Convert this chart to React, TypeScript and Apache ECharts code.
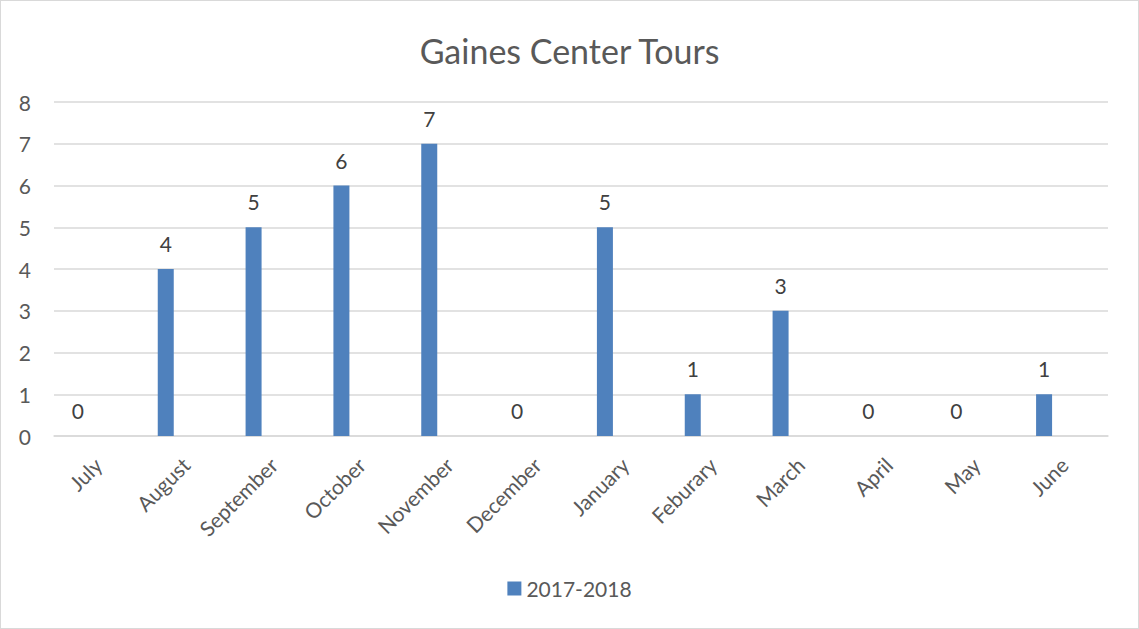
import React, { useEffect, useRef } from "react";
import * as echarts from "echarts";

const categories = ["July", "August", "September", "October", "November", "December", "January", "Feburary", "March", "April", "May", "June"];
const tours = [0, 4, 5, 6, 7, 0, 5, 1, 3, 0, 0, 1];
const emptySeries = [null, null, null, null, null, null, null, null, null, null, null, null];
const yTicks = [0, 8, 1];
const seriesName = "2017-2018";
const title = "Gaines Center Tours";

export default function App() {
  const ref = useRef<HTMLDivElement>(null);
  useEffect(() => {
    document.body.style.margin = "0";
    const chart = echarts.init(ref.current!, null, { renderer: "svg" });
    const font = "Lato, 'Open Sans', sans-serif";
    chart.setOption({
      animation: false,
      textStyle: { fontFamily: font },
      title: {
        text: title,
        left: "center",
        top: 27,
        textStyle: { fontFamily: font, fontSize: 34, fontWeight: "normal", color: "#595959" },
      },
      grid: { left: 53, right: 30, top: 101, bottom: 192, containLabel: false },
      legend: {
        data: [seriesName],
        bottom: 24,
        left: "center",
        itemWidth: 14,
        itemHeight: 14,
        itemGap: 6,
        icon: "rect",
        textStyle: { fontFamily: font, fontSize: 21, color: "#595959" },
      },
      xAxis: {
        type: "category",
        data: categories,
        axisTick: { show: false },
        axisLine: { lineStyle: { color: "#d9d9d9", width: 1.5 } },
        axisLabel: { rotate: 45, fontSize: 21, color: "#595959", margin: 25, interval: 0, fontFamily: font },
      },
      yAxis: {
        type: "value",
        min: yTicks[0],
        max: yTicks[1],
        interval: yTicks[2],
        axisLine: { show: false },
        axisTick: { show: false },
        splitLine: { lineStyle: { color: "#d9d9d9", width: 1.5 } },
        axisLabel: { fontSize: 21, color: "#595959", margin: 23, fontFamily: font },
      },
      series: [
        {
          name: seriesName,
          type: "bar",
          data: tours,
          barWidth: 16,
          barGap: "150%",
          itemStyle: { color: "#4F81BD" },
          label: { show: true, position: "top", fontSize: 21, color: "#404040", distance: 15, fontFamily: font },
        },
        {
          name: "blank",
          type: "bar",
          data: emptySeries,
          barWidth: 16,
          itemStyle: { color: "#C0504D" },
        },
      ],
    });
    return () => chart.dispose();
  }, []);
  return (
    <div
      ref={ref}
      style={{ width: 1139, height: 629, boxSizing: "border-box", border: "1.5px solid #d9d9d9", background: "#fff" }}
    />
  );
}
